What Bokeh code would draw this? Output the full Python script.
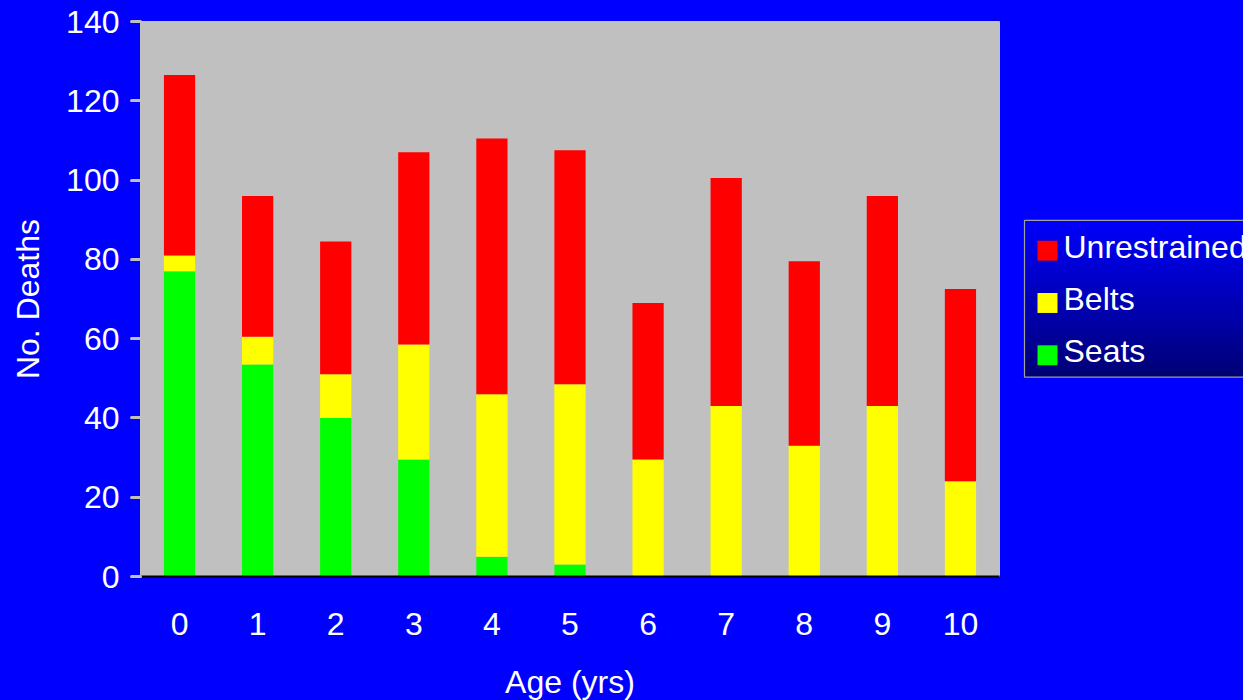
from bokeh.plotting import figure
from bokeh.models import Range1d, FactorRange, FixedTicker
from bokeh.core.properties import value
from bokeh.layouts import row
from bokeh.embed import file_html
from bokeh.resources import INLINE

# ---- data ----
ages = ["0", "1", "2", "3", "4", "5", "6", "7", "8", "9", "10"]
seats = [77, 53.5, 40, 29.5, 5, 3, 0, 0, 0, 0, 0]
belts = [4, 7, 11, 29, 41, 45.5, 29.5, 43, 33, 43, 24]
unrestrained = [45.5, 35.5, 33.5, 48.5, 64.5, 59, 39.5, 57.5, 46.5, 53, 48.5]
series_names = ["Seats", "Belts", "Unrestrained"]
series_colors = ["#00ff00", "#ffff00", "#ff0000"]
y_ticks = [0, 20, 40, 60, 80, 100, 120, 140]

FONT = "Liberation Sans"
FS = "32px"
BLUE = "#0000ff"

# ---- main chart ----
p = figure(frame_width=859, frame_height=555,
           x_range=FactorRange(*ages, range_padding=0),
           y_range=Range1d(0, 140), output_backend="svg", toolbar_location=None,
           min_border_left=140, min_border_right=11, min_border_top=21, min_border_bottom=0)
p.background_fill_color = "#c0c0c0"
p.border_fill_color = BLUE
p.outline_line_color = "#c0c0c0"
p.xgrid.visible = False
p.ygrid.visible = False

data = dict(age=ages, Seats=seats, Belts=belts, Unrestrained=unrestrained)
rs = p.vbar_stack(series_names, x="age", width=0.4, color=series_colors, line_color=None, source=data)

yax = p.yaxis[0]
yax.ticker = FixedTicker(ticks=y_ticks)
yax.axis_line_color = None
yax.major_tick_line_color = "#c0c0c0"
yax.major_tick_line_width = 3
yax.major_tick_line_cap = "round"
yax.major_tick_in = 0
yax.major_tick_out = 9
yax.minor_tick_line_color = None
yax.major_label_text_color = "white"
yax.major_label_text_font = FONT
yax.major_label_text_font_size = FS
yax.major_label_standoff = 12
yax.axis_label = "No. Deaths"
yax.axis_label_text_color = "white"
yax.axis_label_text_font = FONT
yax.axis_label_text_font_size = FS
yax.axis_label_text_font_style = "normal"
yax.axis_label_standoff = 17

xax = p.xaxis[0]
xax.axis_line_color = "#000000"
xax.axis_line_width = 2
xax.major_tick_line_color = None
xax.major_tick_in = 0
xax.major_tick_out = 0
xax.minor_tick_line_color = None
xax.major_label_text_color = "white"
xax.major_label_text_font = FONT
xax.major_label_text_font_size = FS
xax.major_label_standoff = 36
xax.axis_label = "Age (yrs)"
xax.axis_label_text_color = "white"
xax.axis_label_text_font = FONT
xax.axis_label_text_font_size = FS
xax.axis_label_text_font_style = "normal"
xax.axis_label_standoff = 26

# ---- legend panel: its frame is aligned with the main frame (page y 21..576) ----
X0, X1 = 1010, 1243
q = figure(width=X1 - X0, height=700, x_range=Range1d(X0, X1), y_range=Range1d(576, 21),
           output_backend="svg", toolbar_location=None,
           min_border=0, min_border_left=0, min_border_right=0, min_border_top=0, min_border_bottom=0)
q.axis.visible = False
q.grid.visible = False
q.outline_line_color = None
q.background_fill_color = BLUE
q.border_fill_color = BLUE

box_l, box_r, box_t, box_b = 1024, 1260, 220.5, 378
n = 40
tops, bottoms, cols = [], [], []
for i in range(n):
    t = i / (n - 1)
    b = int(round(250 + (118 - 250) * t))
    tops.append(box_t + (box_b - box_t) * i / n)
    bottoms.append(box_t + (box_b - box_t) * (i + 1) / n + 0.5)
    cols.append("#0000%02x" % b)
q.quad(left=box_l, right=box_r, top=tops, bottom=bottoms, fill_color=cols, line_color=None)
q.quad(left=[box_l], right=[box_r], top=[box_t], bottom=[box_b], fill_color=None,
       line_color="#a0a0a0", line_width=1.2)

# legend entries (top to bottom: Unrestrained, Belts, Seats)
leg_names = series_names[::-1]
leg_colors = series_colors[::-1]
item_y0, item_step, sq = 251, 52.5, 20
sq_cy = [item_y0 + i * item_step for i in range(len(leg_names))]
txt_cy = [y - 4 for y in sq_cy]
q.rect(x=1047, y=sq_cy, width=sq, height=sq, fill_color=leg_colors, line_color=None)
q.text(x=1063, y=txt_cy, text=leg_names, text_color="white", text_font=value(FONT),
       text_font_size=FS, text_baseline="middle", text_align="left")

layout = row(p, q)
html = file_html(layout, INLINE)
html = html.replace("</head>", "<style>html,body{margin:0;padding:0;overflow:hidden;background:#0000ff;}</style></head>", 1)
open("out.html", "w").write(html)
